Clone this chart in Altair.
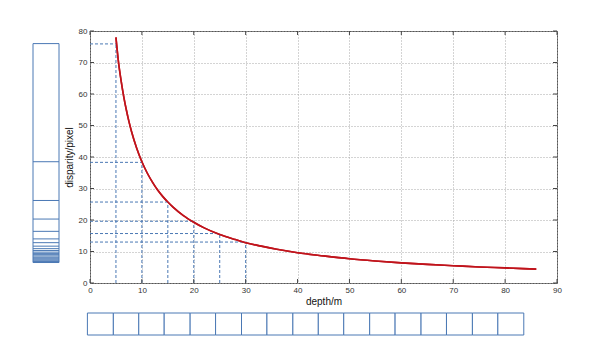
import altair as alt
import pandas as pd

# ---- data ----
x_ticks = [0, 10, 20, 30, 40, 50, 60, 70, 80, 90]
y_ticks = [0, 10, 20, 30, 40, 50, 60, 70, 80]

curve_depth = [5, 5.5, 6, 6.5, 7, 7.5, 8, 9, 10, 11, 12, 13, 14, 15, 16, 18, 20, 22, 25,
               28, 30, 33, 36, 40, 45, 50, 55, 60, 65, 70, 75, 80, 86]
curve_disp = [78, 70, 64.2, 59.2, 55, 51.3, 48.1, 42.8, 38.5, 35, 32.1, 29.6, 27.5, 25.7,
              24.1, 21.4, 19.3, 17.5, 15.4, 13.8, 12.8, 11.7, 10.7, 9.6, 8.6, 7.7, 7.0,
              6.4, 5.9, 5.5, 5.1, 4.8, 4.4]

mark_depth = [5, 10, 15, 20, 25, 30]
mark_disp = [75.9, 38.3, 25.7, 19.6, 15.7, 13.0]

bar_top = [76.0]
bar_bottom = [6.5]
bar_levels = [38.5, 26.2, 20.3, 16.4, 14.0, 12.8, 11.7, 10.9, 10.3, 9.8, 9.4, 9.0,
              8.6, 8.2, 7.9, 7.6, 7.3, 7.0, 6.8]

box_edges = [-0.5, 4.5, 9.4, 14.3, 19.3, 24.2, 29.2, 34.1, 39.1, 44.0, 48.9, 53.9,
             58.8, 63.8, 68.7, 73.7, 78.6, 83.6]

# ---- tables ----
W, H = 467, 252
BLUE = "#4a78b4"
RED = "#c0141c"

curve_df = pd.DataFrame({"depth": curve_depth, "disp": curve_disp})
marks_df = pd.DataFrame({"depth": mark_depth, "disp": mark_disp, "zero": [0] * len(mark_depth)})
bar_df = pd.DataFrame({"top": bar_top, "bottom": bar_bottom})
lev_df = pd.DataFrame({"lev": bar_levels})
box_df = pd.DataFrame({"x0": box_edges[:-1], "x1": box_edges[1:]})
xt_df = pd.DataFrame({"t": x_ticks})
yt_df = pd.DataFrame({"t": y_ticks})

xs = alt.Scale(domain=[0, 90], nice=False, zero=False)
ys = alt.Scale(domain=[0, 80], nice=False, zero=False)

GRID = "#a8a8a8"
x_axis = alt.Axis(values=x_ticks, grid=True, gridDash=[1, 2], gridColor=GRID,
                  gridWidth=1, ticks=False, domain=False, labelPadding=3,
                  title="depth/m", titlePadding=2, labelFlush=False)
y_axis = alt.Axis(values=y_ticks, grid=True, gridDash=[1, 2], gridColor=GRID,
                  gridWidth=1, ticks=False, domain=False, labelPadding=3,
                  title="disparity/pixel", titlePadding=4, labelFlush=False)

X = lambda f: alt.X(f, type="quantitative", scale=xs, axis=x_axis)
Y = lambda f: alt.Y(f, type="quantitative", scale=ys, axis=y_axis)

curve = alt.Chart(curve_df).mark_line(color=RED, strokeWidth=1.6, interpolate="monotone").encode(
    x=X("depth"), y=Y("disp"))

hdash = alt.Chart(marks_df).mark_rule(color=BLUE, strokeDash=[3, 2], strokeWidth=1).encode(
    x=X("zero"), x2="depth", y=Y("disp"))
vdash = alt.Chart(marks_df).mark_rule(color=BLUE, strokeDash=[3, 2], strokeWidth=1).encode(
    x=X("depth"), y=Y("zero"), y2="disp")

bar = alt.Chart(bar_df).mark_rect(fill="white", stroke=BLUE, strokeWidth=1).encode(
    x=alt.value(-57), x2=alt.value(-31), y=Y("top"), y2="bottom")
levels = alt.Chart(lev_df).mark_rule(color=BLUE, strokeWidth=1).encode(
    x=alt.value(-57), x2=alt.value(-31), y=Y("lev"))

boxes = alt.Chart(box_df).mark_rect(fill="white", stroke=BLUE, strokeWidth=1).encode(
    x=X("x0"), x2="x1", y=alt.value(H + 30), y2=alt.value(H + 52))

xt_b = alt.Chart(xt_df).mark_rule(color="#444").encode(x=X("t"), y=alt.value(H), y2=alt.value(H - 4))
xt_t = alt.Chart(xt_df).mark_rule(color="#444").encode(x=X("t"), y=alt.value(0), y2=alt.value(4))
yt_l = alt.Chart(yt_df).mark_rule(color="#444").encode(y=Y("t"), x=alt.value(0), x2=alt.value(4))
yt_r = alt.Chart(yt_df).mark_rule(color="#444").encode(y=Y("t"), x=alt.value(W - 4), x2=alt.value(W))

chart = alt.layer(
    curve, bar, levels, boxes, hdash, vdash, xt_b, xt_t, yt_l, yt_r, curve
).properties(
    width=W, height=H,
    padding={"left": 90, "top": 31, "right": 32, "bottom": 75},
    autosize=alt.AutoSizeParams(type="none"),
    background="white",
).configure_view(
    stroke="#555", strokeWidth=1
).configure_axis(
    labelFont="Liberation Sans", labelFontSize=8, labelColor="#333",
    titleFont="Liberation Sans", titleFontSize=10, titleFontWeight="normal", titleColor="#111",
)

chart.save("out.html", embed_options={"renderer": "svg", "actions": False})
